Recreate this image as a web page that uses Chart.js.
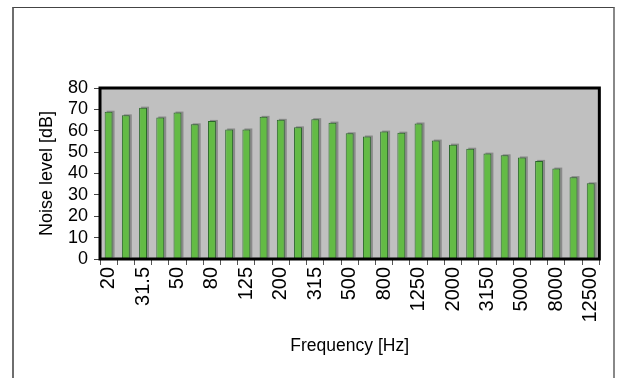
<!DOCTYPE html>
<html>
<head>
<meta charset="utf-8">
<script src="https://cdn.jsdelivr.net/npm/chart.js@4"></script>
<style>
  body { margin: 0; background: #fff; }
  #wrap { position: relative; width: 617px; height: 378px; }
  #frame {
    position: absolute; left: 12px; top: 7px; width: 599px; height: 400px;
    border-left: 2px solid #6e6e6e; border-top: 1px solid #444; border-right: 2px solid #888;
  }
  canvas { position: absolute; left: 0; top: 0; }
</style>
</head>
<body>
<div id="wrap">
  <div id="frame"></div>
  <canvas id="chart" width="617" height="378"></canvas>
</div>
<script>
// third-octave bands, Hz
var freqs = ['20','25','31.5','40','50','63','80','100','125','160','200','250','315','400','500',
             '630','800','1000','1250','1600','2000','2500','3150','4000','5000','6300','8000','10000','12500'];
// noise level, dB
var levels = [68.9, 67.2, 70.8, 66.2, 68.5, 63.0, 64.6, 60.6, 60.6, 66.5, 65.1, 61.6, 65.4, 63.8, 58.8,
              57.3, 59.6, 59.1, 63.4, 55.4, 53.5, 51.6, 49.3, 48.5, 47.5, 45.9, 42.3, 38.3, 35.4];
var yTicks = [0, 10, 20, 30, 40, 50, 60, 70, 80];

var plotBox = {
  id: 'plotBox',
  beforeDraw: function(chart) {
    var a = chart.chartArea, ctx = chart.ctx;
    ctx.save();
    ctx.fillStyle = '#c0c0c0';
    ctx.fillRect(a.left, a.top, a.right - a.left, a.bottom - a.top);
    ctx.restore();
  },
  beforeDatasetsDraw: function(chart) {
    // soft gray shadow right of each bar
    var ctx = chart.ctx;
    var meta = chart.getDatasetMeta(0);
    ctx.save();
    ctx.fillStyle = '#8a8a8a';
    meta.data.forEach(function(b) {
      var w = b.width;
      ctx.fillRect(b.x - w / 2 + 2, b.y - 1, w, b.base - b.y);
    });
    ctx.restore();
  },
  afterDatasetsDraw: function(chart) {
    var a = chart.chartArea, ctx = chart.ctx;
    ctx.save();
    ctx.strokeStyle = '#000';
    ctx.lineWidth = 3;
    ctx.strokeRect(a.left, a.top, a.right - a.left, a.bottom - a.top);
    ctx.restore();
  }
};

new Chart(document.getElementById('chart'), {
  type: 'bar',
  data: {
    labels: freqs,
    datasets: [{
      data: levels,
      backgroundColor: '#63bb45',
      borderColor: '#2a662a',
      borderWidth: 1,
      barPercentage: 0.46,
      categoryPercentage: 1
    }]
  },
  options: {
    responsive: false,
    animation: false,
    layout: { padding: { top: 88, right: 15, left: 0, bottom: 0 } },
    plugins: { legend: { display: false }, tooltip: { enabled: false } },
    scales: {
      x: {
        afterFit: function(s) { s.height = 119; },
        grid: { drawOnChartArea: false, tickLength: 6, color: '#555', offset: true },
        border: { display: false },
        ticks: {
          autoSkip: false, minRotation: 90, maxRotation: 90, padding: 2,
          color: '#000', font: { family: 'Liberation Sans, Arial', size: 20 },
          callback: function(v, i) { return i % 2 === 0 ? freqs[i] : ''; }
        },
        title: {
          display: true, text: 'Frequency [Hz]', color: '#000',
          font: { family: 'Liberation Sans, Arial', size: 17.5 },
          padding: { top: 0, bottom: 21 }
        }
      },
      y: {
        min: 0, max: 80,
        afterFit: function(s) { s.width = 100; },
        afterBuildTicks: function(s) { s.ticks = yTicks.map(function(v) { return { value: v }; }); },
        grid: { drawOnChartArea: false, tickLength: 6, color: '#444' },
        border: { display: false },
        ticks: {
          autoSkip: false, padding: 6, color: '#000',
          font: { family: 'Liberation Sans, Arial', size: 18 }
        },
        title: {
          display: true, text: 'Noise level [dB]', color: '#000',
          font: { family: 'Liberation Sans, Arial', size: 18 },
          padding: { top: 36, bottom: 0 }
        }
      }
    }
  },
  plugins: [plotBox]
});
</script>
</body>
</html>
